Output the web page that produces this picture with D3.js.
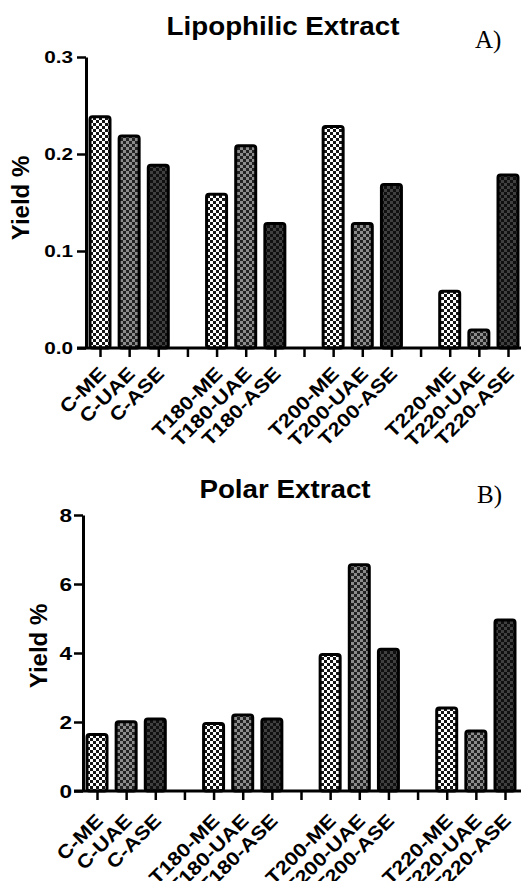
<!DOCTYPE html>
<html>
<head>
<meta charset="utf-8">
<script src="https://cdn.jsdelivr.net/npm/d3@7/dist/d3.min.js"></script>
<style>
  html, body { margin: 0; padding: 0; background: #fff; }
  svg { display: block; }
</style>
</head>
<body>
<svg id="chart" width="522" height="881"></svg>
<script>
// ---- data ----
const labels = ["C-ME","C-UAE","C-ASE","","T180-ME","T180-UAE","T180-ASE","","T200-ME","T200-UAE","T200-ASE","","T220-ME","T220-UAE","T220-ASE"];
const methods = ["ME","UAE","ASE","","ME","UAE","ASE","","ME","UAE","ASE","","ME","UAE","ASE"];
const lipophilic = [0.24,0.22,0.19,null,0.16,0.21,0.13,null,0.23,0.13,0.17,null,0.06,0.02,0.18];
const polar = [1.68,2.05,2.13,null,2.0,2.25,2.13,null,4.0,6.6,4.15,null,2.45,1.78,5.0];
const lipoTicks = [0, 0.1, 0.2, 0.3];
const polarTicks = [0, 2, 4, 6, 8];
const titles = ["Lipophilic Extract", "Polar Extract"];
const panelTags = ["A)", "B)"];

const svg = d3.select("#chart");

// ---- patterns ----
const defs = svg.append("defs");
const patternColors = {
  ME:  ["#ffffff", "#151515"],
  UAE: ["#8c8c8c", "#222222"],
  ASE: ["#404040", "#101010"]
};
Object.entries(patternColors).forEach(([k, [a, b]]) => {
  const p = defs.append("pattern").attr("id", "pat-" + k)
    .attr("patternUnits", "userSpaceOnUse").attr("width", 6).attr("height", 6);
  p.append("rect").attr("width", 6).attr("height", 6).attr("fill", a);
  p.append("rect").attr("x", 0).attr("y", 0).attr("width", 3).attr("height", 3).attr("fill", b);
  p.append("rect").attr("x", 3).attr("y", 3).attr("width", 3).attr("height", 3).attr("fill", b);
});

const panels = [
  { values: lipophilic, ticks: lipoTicks, fmt: d3.format(".1f"), max: 0.3,
    axisX: 86, yTop: 57, yBase: 348, xFirst: 100, xLast: 508, lineLeft: 77, lineRight: 521,
    tickFont: 17, tickRight: 13, labDy: 27,
    title: titles[0], titleX: 283, titleY: 35, tag: panelTags[0], tagX: 475, tagY: 48,
    ylabX: 29, ylabY: 198 },
  { values: polar, ticks: polarTicks, fmt: d3.format("d"), max: 8,
    axisX: 83, yTop: 515, yBase: 791, xFirst: 97, xLast: 505, lineLeft: 74, lineRight: 521,
    tickFont: 18.5, tickRight: 11, labDy: 31,
    title: titles[1], titleX: 285, titleY: 498, tag: panelTags[1], tagX: 477, tagY: 503,
    ylabX: 47, ylabY: 646 }
];

panels.forEach(P => {
  const g = svg.append("g");
  const y = d3.scaleLinear().domain([0, P.max]).range([P.yBase, P.yTop]);
  const x = d3.scalePoint().domain(d3.range(labels.length)).range([P.xFirst, P.xLast]);
  const barW = 20;

  // bars
  const data = P.values.map((v, i) => ({ v, i, m: methods[i] })).filter(d => d.v != null);
  g.selectAll("rect.bar").data(data).join("rect")
    .attr("class", "bar")
    .attr("x", d => x(d.i) - barW / 2)
    .attr("y", d => y(d.v) + 1.5)
    .attr("width", barW)
    .attr("height", d => y(0) - y(d.v) - 1.5)
    .attr("rx", 2.5)
    .attr("fill", d => `url(#pat-${d.m})`)
    .attr("stroke", "#000")
    .attr("stroke-width", 3);

  // y axis
  const yAxis = d3.axisLeft(y).tickValues(P.ticks).tickSize(9).tickSizeOuter(0).tickFormat("");
  const ya = g.append("g").attr("transform", `translate(${P.axisX},0)`).call(yAxis);
  ya.select(".domain").attr("stroke-width", 3);
  ya.selectAll(".tick line").attr("stroke-width", 2.5);

  // y tick labels
  g.selectAll("text.ytick").data(P.ticks).join("text")
    .attr("class", "ytick")
    .attr("transform", d => `translate(${P.axisX - P.tickRight},${y(d)}) scale(1.22,1)`)
    .attr("text-anchor", "end")
    .attr("dy", "0.36em")
    .attr("font-family", "Liberation Sans, Arial, sans-serif")
    .attr("font-weight", "bold")
    .attr("font-size", P.tickFont)
    .text(d => P.fmt(d));

  // x axis
  const xAxis = d3.axisBottom(x).tickSize(9).tickSizeOuter(0).tickFormat("");
  const xa = g.append("g").attr("transform", `translate(0,${P.yBase})`).call(xAxis);
  xa.select(".domain").remove();
  xa.selectAll(".tick line").attr("stroke-width", 2.5);
  g.append("line")
    .attr("x1", P.lineLeft).attr("x2", P.lineRight)
    .attr("y1", P.yBase).attr("y2", P.yBase)
    .attr("stroke", "#000").attr("stroke-width", 3);

  // x labels
  g.selectAll("text.xlab").data(labels.map((l, i) => ({ l, i })).filter(d => d.l)).join("text")
    .attr("class", "xlab")
    .attr("transform", d => `translate(${x(d.i) + 7},${P.yBase + P.labDy}) rotate(-45) scale(1.15,1)`)
    .attr("text-anchor", "end")
    .attr("font-family", "Liberation Sans, Arial, sans-serif")
    .attr("font-weight", "bold")
    .attr("font-size", 19)
    .text(d => d.l);

  // title
  g.append("text")
    .attr("transform", `translate(${P.titleX},${P.titleY}) scale(1.11,1)`)
    .attr("text-anchor", "middle")
    .attr("font-family", "Liberation Sans, Arial, sans-serif")
    .attr("font-weight", "bold")
    .attr("font-size", 25)
    .text(P.title);

  // panel tag
  g.append("text")
    .attr("x", P.tagX).attr("y", P.tagY)
    .attr("font-family", "Liberation Serif, Times New Roman, serif")
    .attr("font-size", 25)
    .text(P.tag);

  // y label
  g.append("text")
    .attr("transform", `translate(${P.ylabX},${P.ylabY}) rotate(-90)`)
    .attr("text-anchor", "middle")
    .attr("font-family", "Liberation Sans, Arial, sans-serif")
    .attr("font-weight", "bold")
    .attr("font-size", 24)
    .text("Yield %");
});
</script>
</body>
</html>
